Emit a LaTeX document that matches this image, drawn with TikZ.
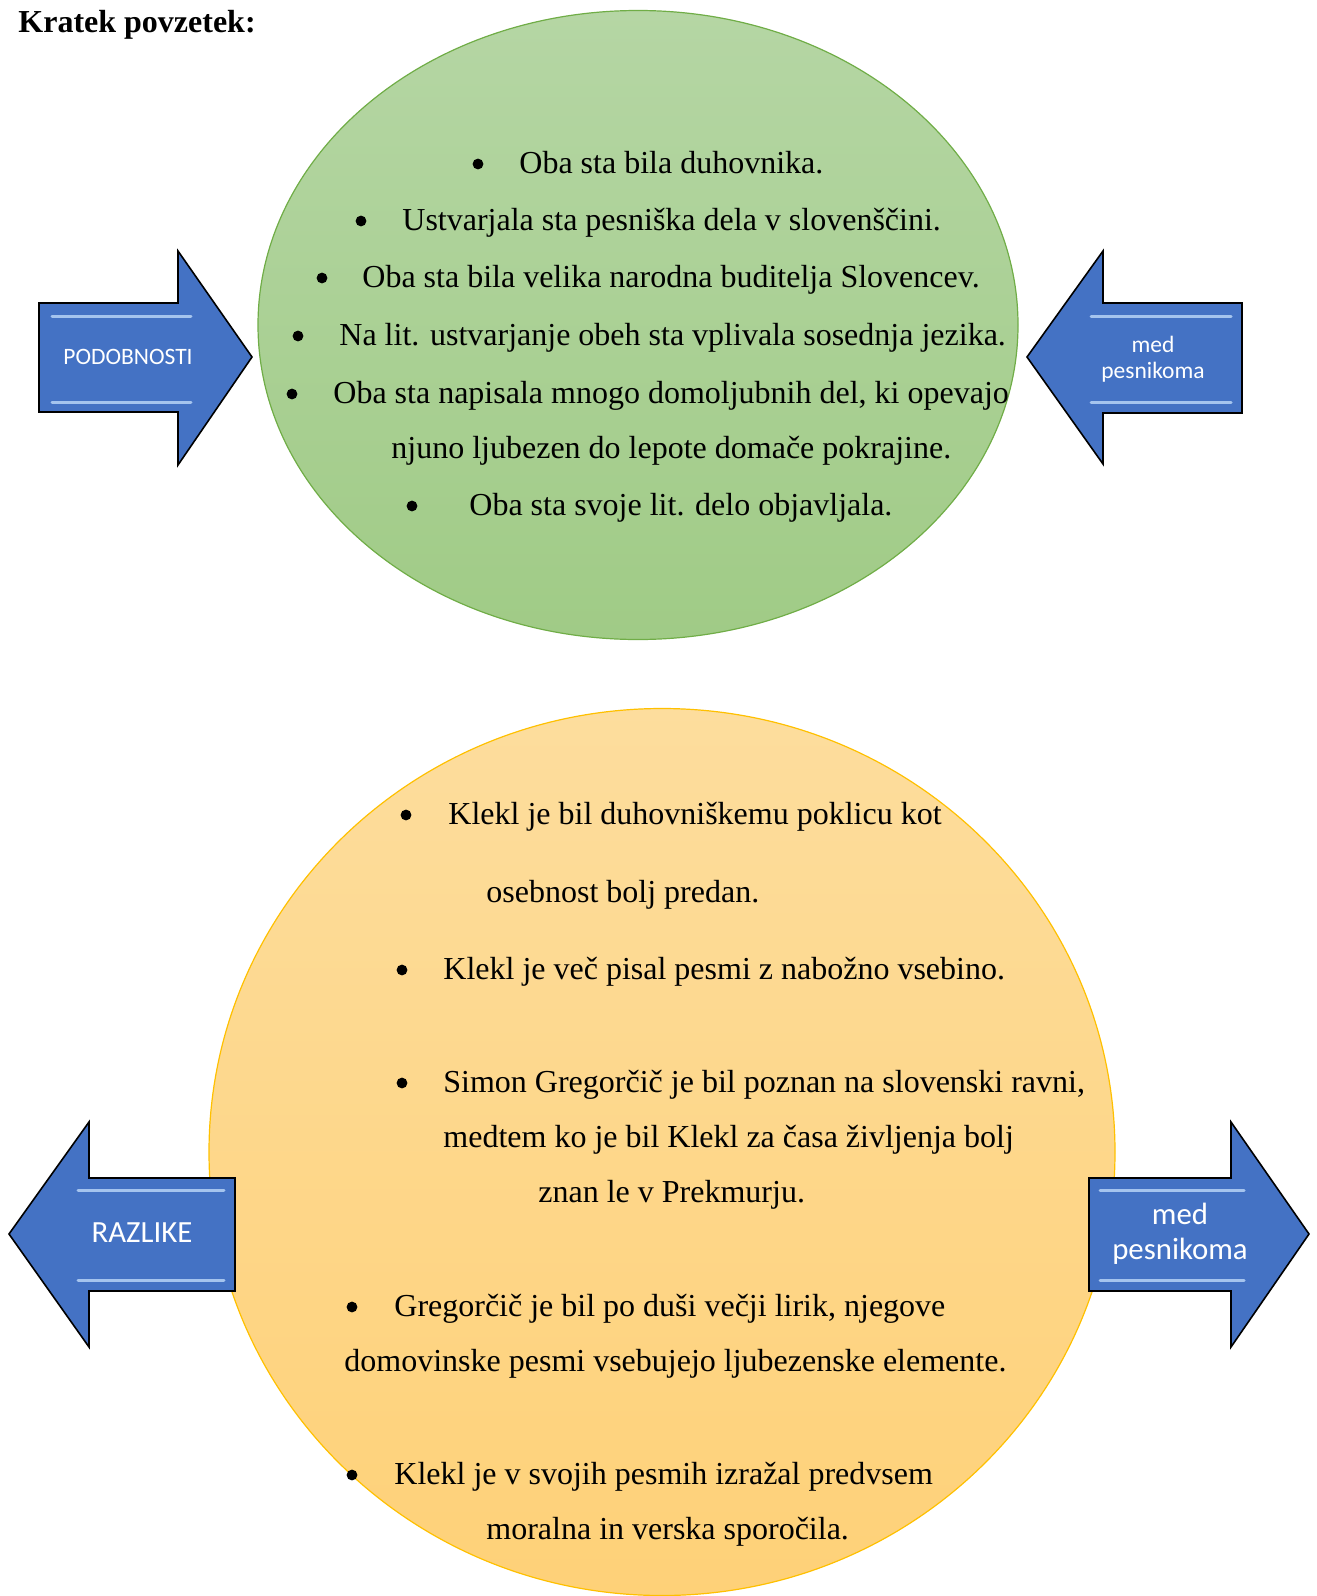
\documentclass[tikz,border=0pt]{standalone}
\usepackage{fontspec}
\setmainfont{Liberation Serif}
\newfontfamily\calibri{Carlito}
\usetikzlibrary{shapes.geometric}
\definecolor{gtop}{RGB}{181,214,164}
\definecolor{gbot}{RGB}{160,203,134}
\definecolor{gline}{RGB}{112,173,71}
\definecolor{otop}{RGB}{253,221,157}
\definecolor{obot}{RGB}{254,209,120}
\definecolor{oline}{RGB}{255,192,0}
\definecolor{arrblue}{RGB}{68,114,196}
\definecolor{arrlight}{RGB}{165,196,238}
\tikzset{
	txt/.style={anchor=base west,inner sep=0pt,font=\fontsize{16}{19}\selectfont},
	bul/.style={circle,fill=black,inner sep=0pt,minimum size=5.4pt},
	bigarrow/.style={fill=arrblue,draw=black,line width=0.8pt,line join=miter},
	bevel/.style={arrlight,line width=1.5pt,line cap=round},
	arrlbl/.style={text=white,align=center,inner sep=0pt}
}
\begin{document}
\begin{tikzpicture}[x=0.5pt,y=-0.5pt]
		\useasboundingbox (0,0) rectangle (1317,1596);
		\node[anchor=base west,inner sep=0pt,font=\fontsize{16}{19}\selectfont\bfseries] (title) at (18,32) {Kratek povzetek:};
		% ellipses
		\node[ellipse,draw=gline,line width=0.6pt,top color=gtop,bottom color=gbot,minimum width=380pt,minimum height=314.5pt,inner sep=0pt] (sim) at (638,325) {};
		\node[ellipse,draw=oline,line width=0.6pt,top color=otop,bottom color=obot,minimum width=453pt,minimum height=443.5pt,inner sep=0pt] (dif) at (662,1152) {};
		% arrows
		\draw[bigarrow] (39,303)--(178,303)--(178,251)--(252,357)--(178,465)--(178,412)--(39,412)--cycle;
		\draw[bevel] (52,316)--(191,316) (52,402)--(191,402);
		\draw[bigarrow] (1242,303)--(1103,303)--(1103,251)--(1027,357)--(1103,464)--(1103,413)--(1242,413)--cycle;
		\draw[bevel] (1091,316)--(1231,316) (1091,402)--(1231,402);
		\draw[bigarrow] (235,1178)--(89,1178)--(89,1122)--(9,1234)--(89,1347)--(89,1291)--(235,1291)--cycle;
		\draw[bevel] (78,1190)--(224,1190) (78,1280)--(224,1280);
		\draw[bigarrow] (1089,1178)--(1231,1178)--(1231,1122)--(1309,1234)--(1231,1347)--(1231,1291)--(1089,1291)--cycle;
		\draw[bevel] (1100,1190)--(1244,1190) (1100,1280)--(1244,1280);
		\node[arrlbl,font=\calibri\fontsize{11.75}{13}\selectfont] (podob) at (128,357) {PODOBNOSTI};
		\node[arrlbl,font=\calibri\fontsize{11.75}{13}\selectfont] (medA) at (1153,359) {med\\pesnikoma};
		\node[arrlbl,font=\calibri\fontsize{15.4}{17.5}\selectfont] (razl) at (142,1233) {RAZLIKE};
		\node[arrlbl,font=\calibri\fontsize{15.4}{17.5}\selectfont] (medB) at (1180,1234) {med\\pesnikoma};
		% podobnosti
		\node[bul] (gb1) at (478,164) {};
		\node[txt] (g1) at (519,173) {Oba sta bila duhovnika.};
		\node[bul] (gb2) at (361,221) {};
		\node[txt] (g2) at (402,230) {Ustvarjala sta pesniška dela v slovenščini.};
		\node[bul] (gb3) at (322,278) {};
		\node[txt] (g3) at (362,287) {Oba sta bila velika narodna buditelja Slovencev.};
		\node[bul] (gb4) at (298,336) {};
		\node[txt] (g4) at (339,345) {Na lit. ustvarjanje obeh sta vplivala sosednja jezika.};
		\node[bul] (gb5) at (292,394) {};
		\node[txt] (g5) at (333,403) {Oba sta napisala mnogo domoljubnih del, ki opevajo};
		\node[txt] (g6) at (391,458) {njuno ljubezen do lepote domače pokrajine.};
		\node[bul] (gb7) at (412,506) {};
		\node[txt] (g7) at (469,515) {Oba sta svoje lit. delo objavljala.};
		% razlike
		\node[bul] (ob1) at (406,815) {};
		\node[txt] (o1) at (448,824) {Klekl je bil duhovniškemu poklicu kot};
		\node[txt] (o2) at (486,902) {osebnost bolj predan.};
		\node[bul] (ob3) at (402,970) {};
		\node[txt] (o3) at (443,979) {Klekl je več pisal pesmi z nabožno vsebino.};
		\node[bul] (ob4) at (402,1083) {};
		\node[txt] (o4) at (443,1092) {Simon Gregorčič je bil poznan na slovenski ravni,};
		\node[txt] (o5) at (443,1147) {medtem ko je bil Klekl za časa življenja bolj};
		\node[txt] (o6) at (538,1202) {znan le v Prekmurju.};
		\node[bul] (ob7) at (352,1307) {};
		\node[txt] (o7) at (394,1316) {Gregorčič je bil po duši večji lirik, njegove};
		\node[txt] (o8) at (344,1371) {domovinske pesmi vsebujejo ljubezenske elemente.};
		\node[bul] (ob9) at (352,1475) {};
		\node[txt] (o9) at (394,1484) {Klekl je v svojih pesmih izražal predvsem};
		\node[txt] (o10) at (486,1539) {moralna in verska sporočila.};
	\end{tikzpicture}
\end{document}
